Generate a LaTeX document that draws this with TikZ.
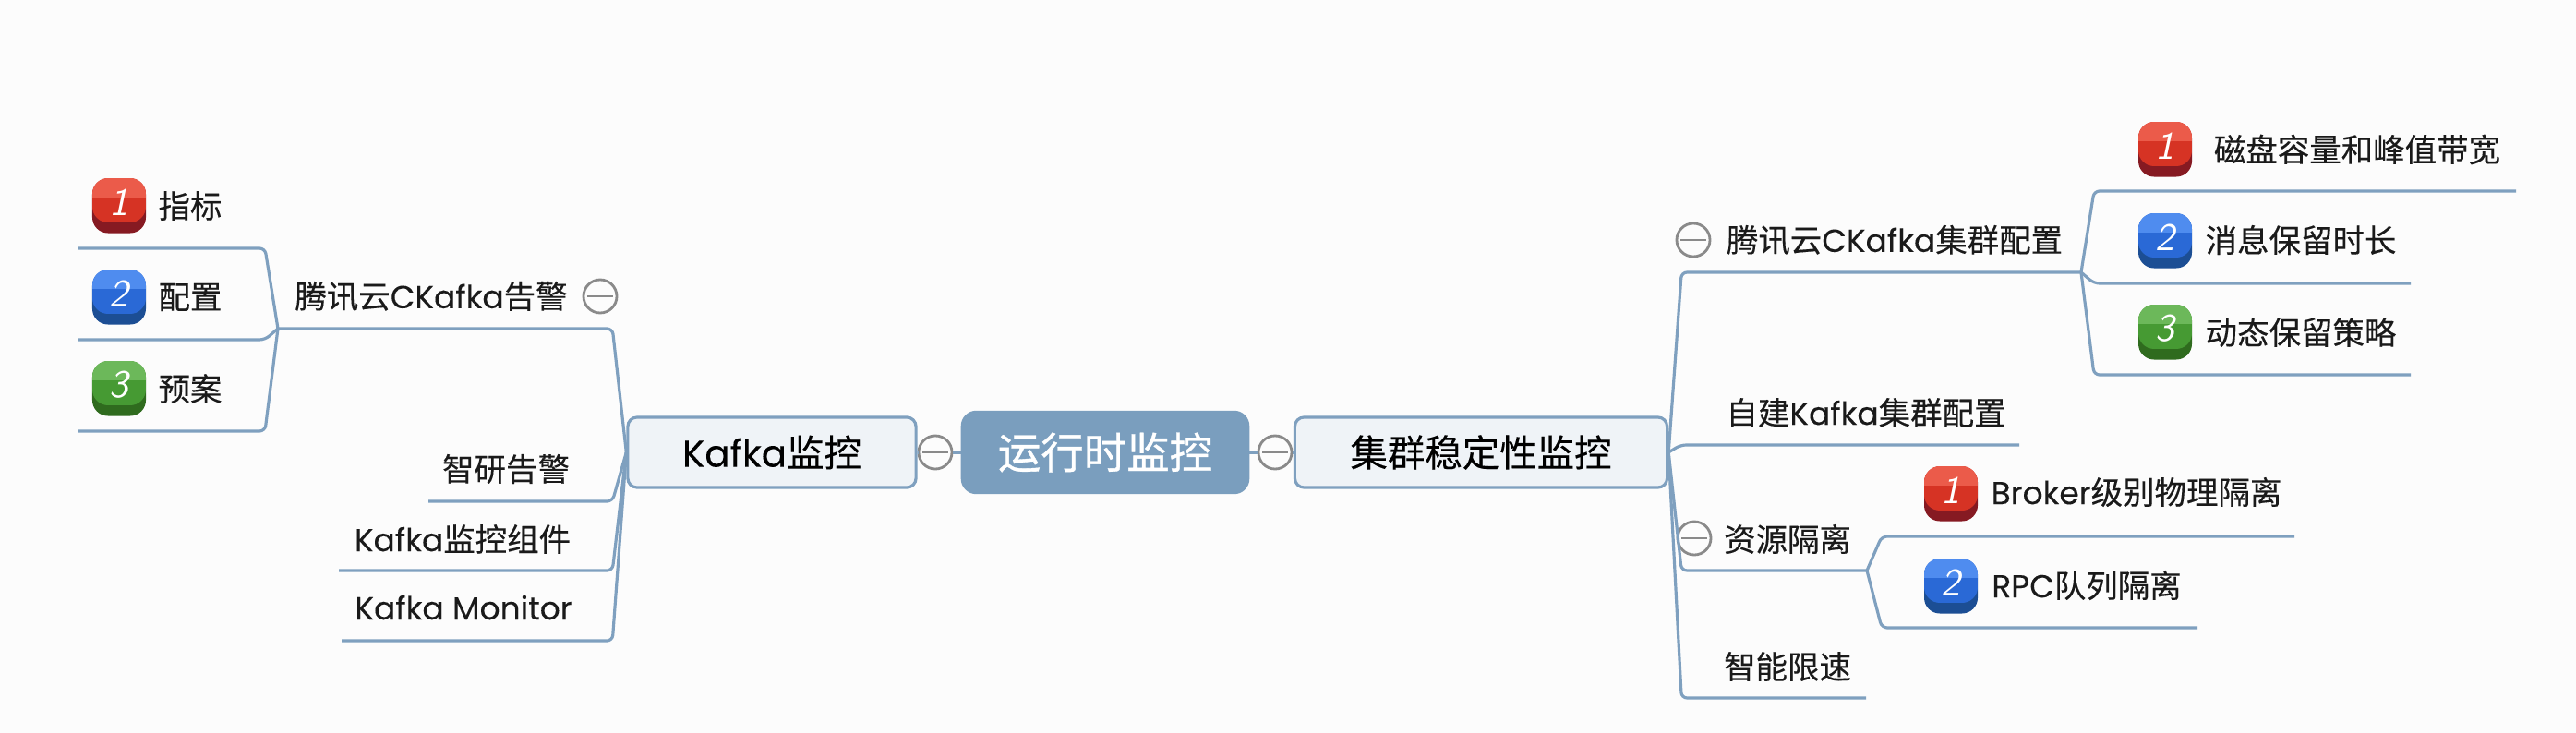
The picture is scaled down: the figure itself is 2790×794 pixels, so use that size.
\documentclass[tikz,border=0pt]{standalone}
\usepackage{fontspec}
\setmainfont[FakeBold=0.25]{Noto Sans CJK SC}
\newfontfamily\lat[FakeBold=0.1]{Poppins}
\newfontfamily\rootfont[FakeBold=0.8]{Noto Sans CJK SC}
\definecolor{paper}{HTML}{FCFCFC}
\definecolor{branch}{HTML}{7FA0BF}
\definecolor{rootfill}{HTML}{7A9EBE}
\definecolor{mainfill}{HTML}{EFF3F7}
\definecolor{foldgray}{HTML}{8A8A8A}
\definecolor{inkgray}{HTML}{1A1A1A}
\definecolor{redA}{HTML}{EB5B4A}\definecolor{redB}{HTML}{D63324}\definecolor{redC}{HTML}{861A22}
\definecolor{blueA}{HTML}{4F8CEF}\definecolor{blueB}{HTML}{2A69D6}\definecolor{blueC}{HTML}{1C4E94}
\definecolor{greenA}{HTML}{6CB85A}\definecolor{greenB}{HTML}{469A33}\definecolor{greenC}{HTML}{2F6B1E}
\tikzset{
  root/.style={draw=rootfill, fill=rootfill, rounded corners=.16cm, minimum width=3.11cm, minimum height=.89cm, text=white, font=\rootfont\fontsize{13.2}{15}\selectfont},
  mainbox/.style={draw=branch, line width=.9pt, fill=mainfill, rounded corners=.1cm, minimum height=.76cm, text=black, font=\fontsize{11.5}{14}\selectfont},
  topic/.style={inner sep=0pt, text=inkgray, font=\fontsize{9.8}{12}\selectfont},
  fold/.style={circle, draw=foldgray, line width=.8pt, fill=paper, inner sep=0pt, minimum size=.36cm,
    path picture={\draw[foldgray, line width=.8pt] ([xshift=.04cm]path picture bounding box.west) -- ([xshift=-.04cm]path picture bounding box.east);}},
  branchline/.style={draw=branch, line width=.9pt, rounded corners=.06cm},
  rankbox/.style={inner sep=0pt, minimum width=.58cm, minimum height=.59cm, rounded corners=.17cm}
}
% Colored numbered marker: name, x, y, number, color
\newcommand{\rank}[5]{
  \begin{scope}[shift={(#2,#3)}]
    \node[rankbox, fill=#5C] (#1) at (0,0) {};
    \begin{scope}
      \clip[rounded corners=.17cm] (-29,-30) rectangle (29,18);
      \fill[#5B] (-29,-30) rectangle (29,18);
      \fill[#5A] (-29,-30) rectangle (29,-9);
    \end{scope}
    \node[text=white, inner sep=0pt, font=\sffamily\itshape\fontsize{12}{14}\selectfont] at (0,-4) {#4};
  \end{scope}
}
% Branch from a junction: start, sideways offset of the bend, free end
\newcommand{\branchto}[3]{
  \draw[branchline] (#1) -- ([xshift=#2]#1 |- #3) -- (#3);
}
\begin{document}
\begin{tikzpicture}[x=.01cm, y=-.01cm]
  \fill[paper] (0,0) rectangle (2790,794);
  \useasboundingbox (0,0) rectangle (2790,794);

  % Center and the two main topics
  \node[root] (monitor) at (1197,490) {运行时监控};
  \node[fold] (foldL) at (1013,490) {};
  \node[fold] (foldR) at (1381,490) {};
  \node[mainbox, minimum width=3.12cm] (kafka) at (836,490) {{\lat Kafka}监控};
  \node[mainbox, minimum width=4.03cm] (cluster) at (1604,490) {集群稳定性监控};
  \draw[branchline] (monitor.west) -- (foldL.east);
  \draw[branchline] (foldL.west) -- (kafka.east);
  \draw[branchline] (monitor.east) -- (foldR.west);
  \draw[branchline] (foldR.east) -- (cluster.west);

  % Left side
  \node[topic] (ckafkaAlarm) at (467,321) {腾讯云{\lat CKafka}告警};
  \node[fold] (foldAlarm) at (650,321) {};
  \node[topic] (zhiyan) at (548,508) {智研告警};
  \node[topic] (kafkaParts) at (501,584) {{\lat Kafka}监控组件};
  \node[topic] (kafkaMon) at (502,658) {\lat Kafka Monitor};
  \coordinate (alarmEnd) at (301,356);
  \coordinate (zhiyanEnd) at (464,543);
  \coordinate (partsEnd) at (367,618);
  \coordinate (monEnd) at (370,694);
  \branchto{kafka.west}{-.15cm}{alarmEnd}
  \branchto{kafka.west}{-.15cm}{zhiyanEnd}
  \branchto{kafka.west}{-.15cm}{partsEnd}
  \branchto{kafka.west}{-.15cm}{monEnd}

  \rank{rankI}{129}{223}{1}{red}
  \rank{rankII}{129}{322}{2}{blue}
  \rank{rankIII}{129}{421}{3}{green}
  \node[topic] (metric) at (206,223) {指标};
  \node[topic] (config) at (206,322) {配置};
  \node[topic] (plan) at (206,421) {预案};
  \coordinate (metricEnd) at (84,269);
  \coordinate (configEnd) at (84,368);
  \coordinate (planEnd) at (84,467);
  \branchto{alarmEnd}{-.14cm}{metricEnd}
  \branchto{alarmEnd}{-.14cm}{configEnd}
  \branchto{alarmEnd}{-.14cm}{planEnd}

  % Right side
  \node[fold] (foldCloud) at (1834,260) {};
  \node[topic] (cloudConf) at (2052,260) {腾讯云{\lat CKafka}集群配置};
  \node[topic] (selfConf) at (2021,447) {自建{\lat Kafka}集群配置};
  \node[fold] (foldIso) at (1835,583) {};
  \node[topic] (isolate) at (1936,584) {资源隔离};
  \node[topic] (limit) at (1936,722) {智能限速};
  \coordinate (cloudEnd) at (2254,295);
  \coordinate (selfEnd) at (2187,482);
  \coordinate (isoEnd) at (2022,618);
  \coordinate (limitEnd) at (2021,756);
  \branchto{cluster.east}{.14cm}{cloudEnd}
  \branchto{cluster.east}{.13cm}{selfEnd}
  \branchto{cluster.east}{.14cm}{isoEnd}
  \branchto{cluster.east}{.14cm}{limitEnd}

  \rank{diskRank}{2345}{162}{1}{red}
  \rank{keepRank}{2345}{261}{2}{blue}
  \rank{dynRank}{2345}{360}{3}{green}
  \node[topic] (disk) at (2553,162) {磁盘容量和峰值带宽};
  \node[topic] (keep) at (2492,260) {消息保留时长};
  \node[topic] (dyn) at (2492,360) {动态保留策略};
  \coordinate (diskEnd) at (2725,207);
  \coordinate (keepEnd) at (2611,307);
  \coordinate (dynEnd) at (2611,406);
  \branchto{cloudEnd}{.14cm}{diskEnd}
  \branchto{cloudEnd}{.14cm}{keepEnd}
  \branchto{cloudEnd}{.14cm}{dynEnd}

  \rank{brokerRank}{2113}{535}{1}{red}
  \rank{rpcRank}{2113}{635}{2}{blue}
  \node[topic] (broker) at (2314,533) {{\lat Broker}级别物理隔离};
  \node[topic] (rpc) at (2260,634) {{\lat RPC}队列隔离};
  \coordinate (brokerEnd) at (2485,581);
  \coordinate (rpcEnd) at (2380,680);
  \branchto{isoEnd}{.16cm}{brokerEnd}
  \branchto{isoEnd}{.16cm}{rpcEnd}
\end{tikzpicture}
\end{document}
